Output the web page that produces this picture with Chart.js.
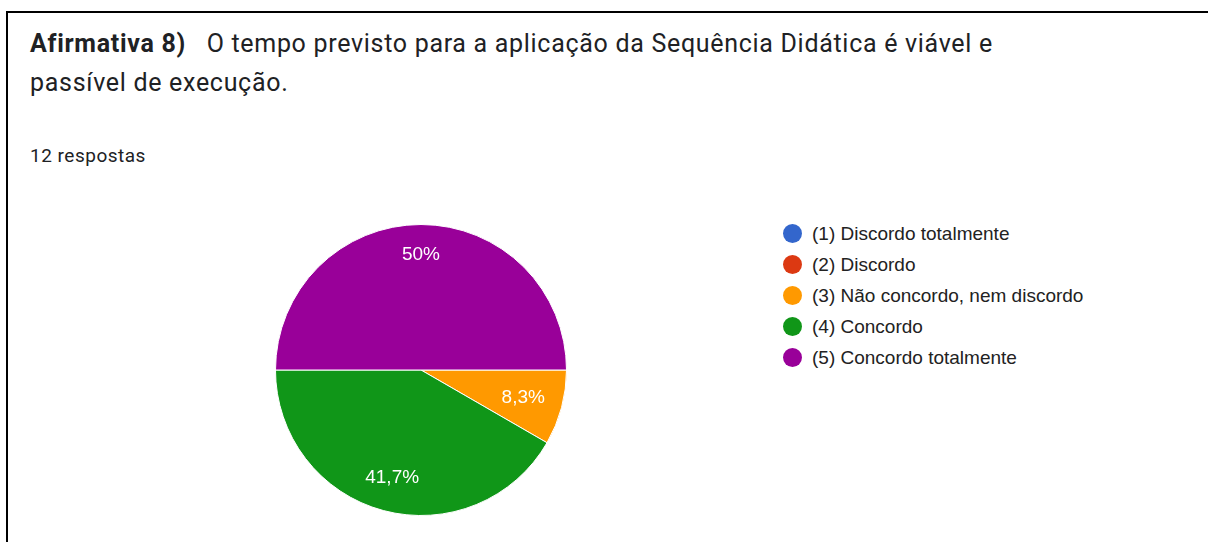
<!DOCTYPE html>
<html><head><meta charset="utf-8">
<script src="https://cdn.jsdelivr.net/npm/chart.js@4.4.0/dist/chart.umd.min.js"></script>
<style>
html,body{margin:0;padding:0;background:#fff;width:1208px;height:542px;overflow:hidden;position:relative}
#frame{position:absolute;left:6px;top:11px;width:1300px;height:700px;border-left:2px solid #000;border-top:2px solid #000}
#title{position:absolute;left:30px;top:24px;width:1100px;font-family:Roboto,sans-serif;font-size:25px;letter-spacing:0.7px;line-height:39px;color:#202124;white-space:nowrap}
#title b{font-weight:700}
#count{position:absolute;left:30px;top:144px;font-family:Roboto,sans-serif;font-size:19px;letter-spacing:0.5px;color:#202124}
#pieWrap{position:absolute;left:274px;top:223px;width:294px;height:294px}
#legend{position:absolute;left:783px;top:218px;font-family:"Liberation Sans",Arial,sans-serif;font-size:19px;color:#222}
.li{height:31px;display:flex;align-items:center;white-space:nowrap}
.dot{width:19px;height:19px;border-radius:50%;margin-right:10px;flex:none}
</style></head>
<body>
<div id="frame"></div>
<div id="title"><b>Afirmativa 8)</b>&nbsp;&nbsp; O tempo previsto para a aplicação da Sequência Didática é viável e<br>passível de execução.</div>
<div id="count">12 respostas</div>
<div id="pieWrap"><canvas id="c"></canvas></div>
<div id="legend"></div>
<script>
const categories = ["(1) Discordo totalmente","(2) Discordo","(3) Não concordo, nem discordo","(4) Concordo","(5) Concordo totalmente"];
const responses = [0, 0, 1, 5, 6];
const colors = ["#3366cc","#dc3912","#ff9900","#109618","#990099"];

const total = responses.reduce((a,b)=>a+b,0);
function fmtPct(v){
  const p = Math.round(v/total*1000)/10;
  return (Number.isInteger(p) ? String(p) : p.toFixed(1).replace('.',',')) + '%';
}

const labelPlugin = {
  id:'sliceLabels',
  afterDatasetsDraw(chart){
    const ctx = chart.ctx;
    const meta = chart.getDatasetMeta(0);
    ctx.save();
    ctx.fillStyle = '#ffffff';
    ctx.font = '19px "Liberation Sans", Arial, sans-serif';
    ctx.textAlign = 'center';
    ctx.textBaseline = 'middle';
    meta.data.forEach((arc,i)=>{
      const v = chart.data.datasets[0].data[i];
      if(!v) return;
      const txt = fmtPct(v);
      const hw = ctx.measureText(txt).width/2, hh = 7;
      const mid = (arc.startAngle + arc.endAngle)/2;
      const c = Math.cos(mid), s = Math.sin(mid);
      const r = arc.outerRadius*0.79 + 5 - 0.62*(Math.abs(c)*hw + Math.abs(s)*hh);
      ctx.fillText(txt, arc.x + c*r, arc.y + s*r);
    });
    ctx.restore();
  }
};

const chart = new Chart(document.getElementById('c'),{
  type:'pie',
  data:{labels:categories,datasets:[{data:responses,backgroundColor:colors,borderColor:'#ffffff',borderWidth:1}]},
  options:{
    responsive:true,maintainAspectRatio:false,animation:false,
    rotation:90,
    layout:{padding:1},
    plugins:{legend:{display:false},tooltip:{enabled:false}}
  },
  plugins:[labelPlugin]
});

const leg = document.getElementById('legend');
categories.forEach((c,i)=>{
  const d = document.createElement('div'); d.className='li';
  const s = document.createElement('span'); s.className='dot'; s.style.background=colors[i];
  const t = document.createElement('span'); t.textContent=c;
  d.appendChild(s); d.appendChild(t); leg.appendChild(d);
});
</script>
</body></html>
